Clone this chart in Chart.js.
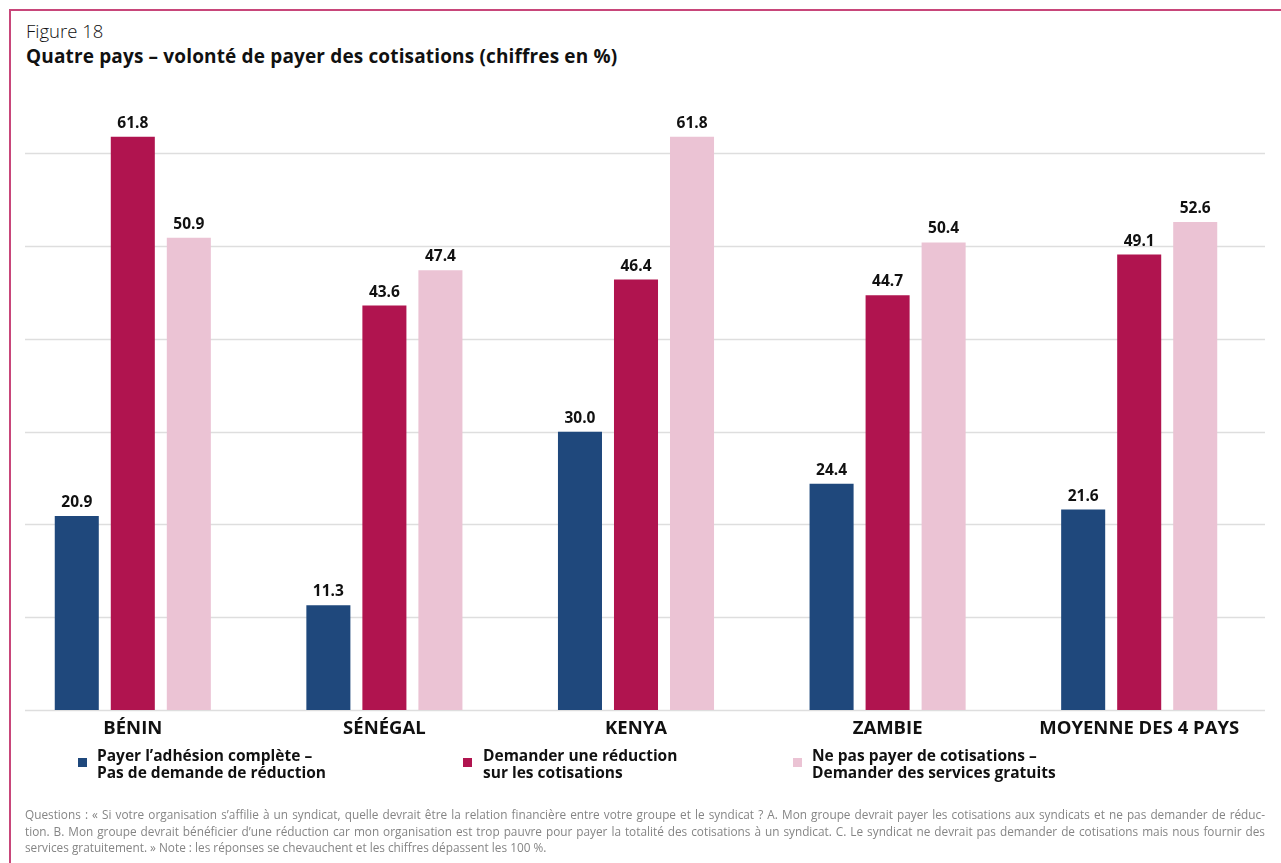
<!DOCTYPE html>
<html lang="fr">
<head>
<meta charset="utf-8">
<title>Figure 18</title>
<script src="https://cdn.jsdelivr.net/npm/chart.js@4.4.1/dist/chart.umd.min.js"></script>
<style>
  html, body { margin: 0; padding: 0; background: #fff; }
  body { width: 1281px; height: 863px; position: relative; overflow: hidden; font-family: "Open Sans", "Noto Sans", sans-serif; }
  .frame { position: absolute; left: 9px; top: 9px; right: -5px; bottom: -5px; border-top: 2.5px solid #c8467a; border-left: 2.5px solid #c8467a; }
  .fig { position: absolute; left: 26px; top: 18px; font-size: 18.5px; font-weight: 300; color: #111; }
  .title { position: absolute; left: 26px; top: 43px; font-size: 19px; font-weight: 700; color: #111; letter-spacing: 0.15px; }
  #wrap { position: absolute; left: 0; top: 0; width: 1281px; height: 863px; }
  .leg { position: absolute; font-size: 15.5px; font-weight: 700; color: #111; line-height: 17px; }
  .leg i { position: absolute; width: 9px; height: 9px; top: 11px; }
  .leg span { display: block; }
  .note { position: absolute; left: 25px; top: 806px; width: 1240px; font-size: 11.8px; color: #858585; line-height: 16.5px; }
  .note div { white-space: nowrap; text-align: justify; text-align-last: justify; }
  .note div.last { text-align-last: left; }
</style>
</head>
<body>
<div class="frame"></div>
<div class="fig">Figure 18</div>
<div class="title">Quatre pays – volonté de payer des cotisations (chiffres en %)</div>
<div id="wrap"><canvas id="c"></canvas></div>
<div id="legend"></div>
<div class="note">
  <div>Questions : « Si votre organisation s’affilie à un syndicat, quelle devrait être la relation financière entre votre groupe et le syndicat ? A. Mon groupe devrait payer les cotisations aux syndicats et ne pas demander de réduc-</div>
  <div>tion. B. Mon groupe devrait bénéficier d’une réduction car mon organisation est trop pauvre pour payer la totalité des cotisations à un syndicat. C. Le syndicat ne devrait pas demander de cotisations mais nous fournir des</div>
  <div class="last">services gratuitement. » Note : les réponses se chevauchent et les chiffres dépassent les 100 %.</div>
</div>
<script>
// Countries and the three answer options (percent of respondents)
const categories = ["BÉNIN", "SÉNÉGAL", "KENYA", "ZAMBIE", "MOYENNE DES 4 PAYS"];
const seriesNames = [
  ["Payer l’adhésion complète –", "Pas de demande de réduction"],
  ["Demander une réduction", "sur les cotisations"],
  ["Ne pas payer de cotisations –", "Demander des services gratuits"]
];
const payerComplet = [20.9, 11.3, 30.0, 24.4, 21.6];
const demanderReduction = [61.8, 43.6, 46.4, 44.7, 49.1];
const servicesGratuits = [50.9, 47.4, 61.8, 50.4, 52.6];
const gridTicks = [0, 10, 20, 30, 40, 50, 60];

const colors = ["#1f487c", "#b0144f", "#ebc3d4"];
const seriesData = [payerComplet, demanderReduction, servicesGratuits];

// HTML legend with two-line labels
const legendX = [[78, 97], [463, 483], [793, 812]];
const legend = document.getElementById("legend");
seriesNames.forEach((lines, i) => {
  const d = document.createElement("div");
  d.className = "leg";
  d.style.left = legendX[i][0] + "px";
  d.style.top = "747px";
  d.style.paddingLeft = (legendX[i][1] - legendX[i][0]) + "px";
  d.innerHTML = '<i style="left:0;background:' + colors[i] + '"></i>' +
    lines.map(t => "<span>" + t + "</span>").join("");
  legend.appendChild(d);
});

// Horizontal gridlines from the y scale, starting a bit right of the plot's left edge
const gridPlugin = {
  id: "gridLines",
  beforeDatasetsDraw(chart) {
    const { ctx, chartArea, scales } = chart;
    ctx.save();
    ctx.strokeStyle = "#dedede";
    ctx.lineWidth = 1.5;
    gridTicks.forEach(v => {
      const y = Math.round(scales.y.getPixelForValue(v)) + 0.5;
      ctx.beginPath();
      ctx.moveTo(25, y);
      ctx.lineTo(chartArea.right, y);
      ctx.stroke();
    });
    ctx.restore();
  }
};

// Value labels above each bar
const valuePlugin = {
  id: "valueLabels",
  afterDatasetsDraw(chart) {
    const { ctx } = chart;
    ctx.save();
    ctx.font = "700 15.5px 'Open Sans', sans-serif";
    ctx.fillStyle = "#111";
    ctx.textAlign = "center";
    ctx.textBaseline = "alphabetic";
    chart.data.datasets.forEach((ds, di) => {
      chart.getDatasetMeta(di).data.forEach((bar, i) => {
        ctx.fillText(ds.data[i].toFixed(1), bar.x, bar.y - 9);
      });
    });
    ctx.restore();
  }
};

new Chart(document.getElementById("c"), {
  type: "bar",
  data: {
    labels: categories,
    datasets: seriesData.map((d, i) => ({
      label: seriesNames[i].join(" "),
      data: d,
      backgroundColor: colors[i],
      borderWidth: 0,
      categoryPercentage: 0.668,
      barPercentage: 0.786
    }))
  },
  options: {
    responsive: true,
    maintainAspectRatio: false,
    animation: false,
    layout: { padding: { left: 7, right: 16, top: 107, bottom: 113 } },
    plugins: { legend: { display: false }, tooltip: { enabled: false } },
    scales: {
      x: {
        grid: { display: false, drawTicks: false },
        border: { display: false },
        ticks: { color: "#111", font: { family: "'Open Sans', sans-serif", size: 18.5, weight: "700" }, padding: 8 },
        afterFit(s) { s.height = 40; }
      },
      y: {
        display: false,
        min: 0,
        max: 65
      }
    }
  },
  plugins: [gridPlugin, valuePlugin]
});
</script>
</body>
</html>
